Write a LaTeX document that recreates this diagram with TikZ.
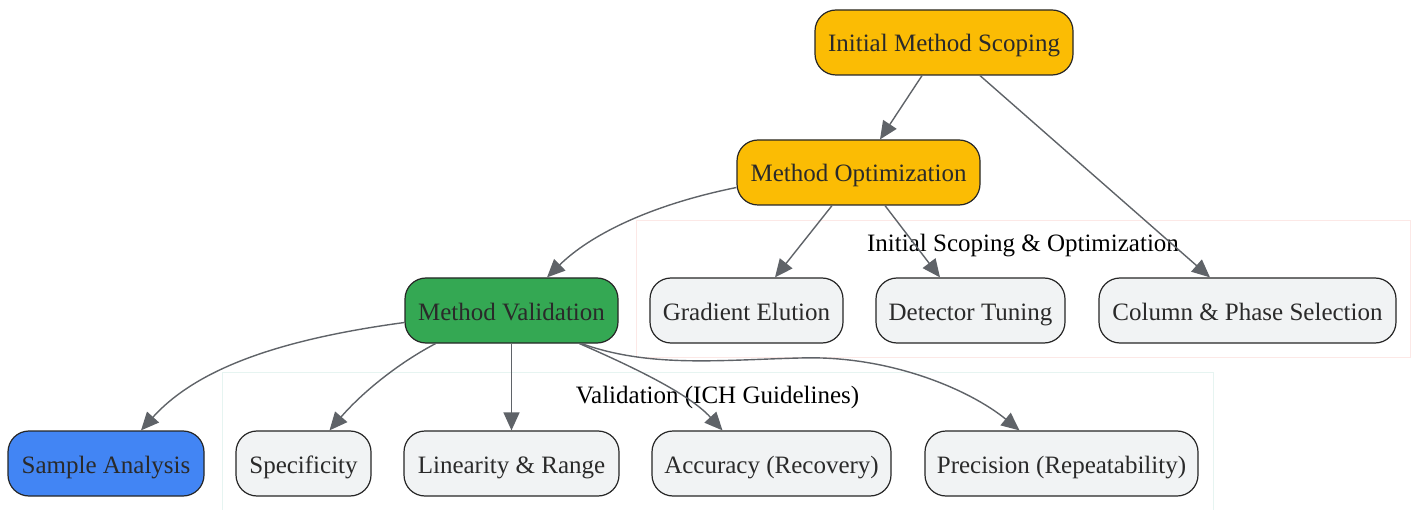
\documentclass[tikz,border=0pt]{standalone}
\usepackage{fontspec}
\setmainfont{Liberation Serif}
\usetikzlibrary{arrows.meta,calc}
\definecolor{gold}{HTML}{FBBC04}
\definecolor{ggreen}{HTML}{34A853}
\definecolor{gblue}{HTML}{4285F4}
\definecolor{lightbox}{HTML}{F1F3F4}
\definecolor{edgec}{HTML}{5F6368}
\definecolor{txt}{HTML}{2A2A2A}
\definecolor{clpink}{HTML}{FCE8E6}
\definecolor{clcyan}{HTML}{E6F4F1}
\tikzset{
  box/.style={draw=black!85, line width=1.2pt, rounded corners=21pt, minimum height=65pt,
    inner sep=0pt, text height=19pt, text depth=0pt, text=txt,
    font=\fontsize{25}{29}\selectfont, fill=lightbox},
  goldbox/.style={box, fill=gold},
  greenbox/.style={box, fill=ggreen},
  bluebox/.style={box, fill=gblue},
  conn/.style={draw=edgec, line width=1.4pt, -{Triangle[length=18pt,width=16pt]}},
  cluster/.style={line width=0.8pt, fill=white},
  cllabel/.style={font=\fontsize{25}{29}\selectfont, text=black, inner sep=0pt, anchor=base}
}
\begin{document}
\begin{tikzpicture}[x=1pt,y=-1pt]
\useasboundingbox (0,0) rectangle (1415,510);
% clusters
\draw[cluster, draw=clpink] (636,220) rectangle (1410,357);
\draw[cluster, draw=clcyan] (222,372) rectangle (1213,515);
\node[cllabel] (cl1) at (1023,251.5) {Initial Scoping \& Optimization};
\node[cllabel] (cl2) at (717.5,403) {Validation (ICH Guidelines)};
% nodes
\node[goldbox, minimum width=258pt] (IMS) at (944,42.5) {Initial Method Scoping};
\node[goldbox, minimum width=243pt] (MO) at (858.5,172.5) {Method Optimization};
\node[greenbox, minimum width=213pt] (MV) at (511.5,310.5) {Method Validation};
\node[box, minimum width=193pt] (GE) at (746.5,310.5) {Gradient Elution};
\node[box, minimum width=189pt] (DT) at (970.5,310.5) {Detector Tuning};
\node[box, minimum width=297pt] (CP) at (1247.5,310.5) {Column \& Phase Selection};
\node[bluebox, minimum width=196pt] (SA) at (106,463.5) {Sample Analysis};
\node[box, minimum width=135pt] (SP) at (303.5,463.5) {Specificity};
\node[box, minimum width=215pt] (LR) at (511.5,463.5) {Linearity \& Range};
\node[box, minimum width=239pt] (AC) at (771.5,463.5) {Accuracy (Recovery)};
\node[box, minimum width=273pt] (PR) at (1061.5,463.5) {Precision (Repeatability)};
% edges
\draw[conn] ($(IMS.south)+(-22,0)$) -- ($(MO.north)+(21.5,0)$);
\draw[conn] ($(IMS.south)+(36,0)$) -- ($(CP.north)+(-37.5,0)$);
\draw[conn] ($(MO.south)+(-26.5,0)$) -- ($(GE.north)+(28.5,0)$);
\draw[conn] ($(MO.south)+(26.5,0)$) -- ($(DT.north)+(-30.5,0)$);
\draw[conn] ($(MO.west)+(0,15)$) .. controls (650,205) and (590,235) .. ($(MV.north)+(35.5,0)$);
\draw[conn] ($(MV.west)+(0,12)$) .. controls (290,338) and (200,365) .. ($(SA.north)+(35,0)$);
\draw[conn] ($(MV.south)+(-76,0)$) .. controls (395,365) and (360,395) .. ($(SP.north)+(26,0)$);
\draw[conn] (MV.south) -- (LR.north);
\draw[conn] ($(MV.south)+(68,0)$) .. controls (640,370) and (690,395) .. ($(AC.north)+(-49,0)$);
\draw[conn] ($(MV.south)+(70,0)$) .. controls (650,368) and (720,360) .. (800,358)
  .. controls (890,355) and (970,390) .. ($(PR.north)+(-42,0)$);
\end{tikzpicture}
\end{document}
